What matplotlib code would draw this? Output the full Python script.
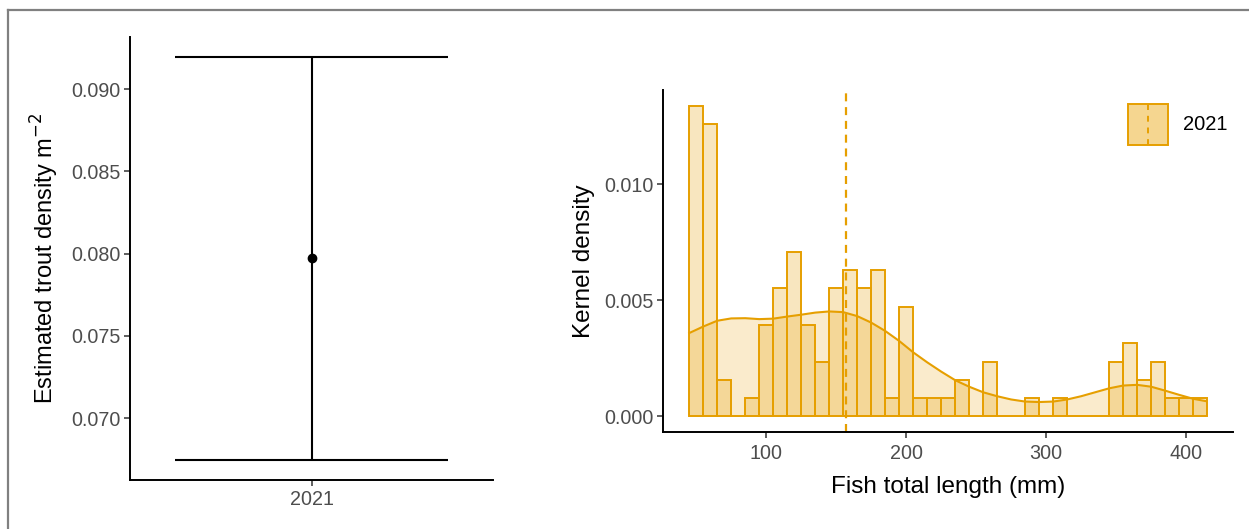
import numpy as np
import matplotlib
matplotlib.use("Agg")
import matplotlib.pyplot as plt
from matplotlib.patches import Rectangle
from matplotlib.lines import Line2D

plt.rcParams['font.family'] = ['Liberation Sans', 'DejaVu Sans']

# left panel: density estimate with interval
years = ['2021']
density_est = [0.07976]
density_lo = [0.06745]
density_hi = [0.09196]

# right panel: fish length histogram (counts per 10 mm bin)
bin_centers = [50, 60, 70, 80, 90, 100, 110, 120, 130, 140, 150, 160, 170, 180,
               190, 200, 210, 220, 230, 240, 250, 260, 270, 280, 290, 300, 310,
               320, 330, 340, 350, 360, 370, 380, 390, 400, 410]
counts = [17, 16, 2, 0, 1, 5, 7, 9, 5, 3, 7, 8, 7, 8,
          1, 6, 1, 1, 1, 2, 0, 3, 0, 0, 1, 0, 1,
          0, 0, 0, 3, 4, 2, 3, 1, 1, 1]
binwidth = 10
mean_length = 157

# kernel density curve
kde_x = [45, 55, 65, 75, 85, 95, 105, 115, 125, 135, 145, 155, 165, 175, 185,
         195, 205, 215, 225, 235, 245, 255, 265, 275, 285, 295, 305, 315, 325,
         335, 345, 355, 365, 375, 385, 395, 405, 414]
kde_y = [0.00359, 0.00387, 0.00412, 0.00422, 0.00423, 0.00419, 0.00421, 0.00430,
         0.00438, 0.00447, 0.00452, 0.00449, 0.00432, 0.00404, 0.00368, 0.00325,
         0.00276, 0.00233, 0.00193, 0.00156, 0.00128, 0.00104, 0.00087, 0.00073,
         0.00064, 0.00062, 0.00064, 0.00073, 0.00087, 0.00104, 0.00121, 0.00133,
         0.00136, 0.00128, 0.00111, 0.00093, 0.00076, 0.00066]

orange = '#E69F00'
tick_grey = '#4D4D4D'


def style_axes(ax):
    for s in ['top', 'right']:
        ax.spines[s].set_visible(False)
    for s in ['left', 'bottom']:
        ax.spines[s].set_linewidth(1.4)
        ax.spines[s].set_color('black')
    ax.tick_params(axis='both', labelsize=14.2, labelcolor=tick_grey,
                   length=4, width=1.1, color='#333333', pad=3)


fig = plt.figure(figsize=(12.49, 5.29), dpi=100)

# frame lines (top and left) like the source screenshot
fig.add_artist(Line2D([8 / 1249, 1], [1 - 10 / 529, 1 - 10 / 529],
                      transform=fig.transFigure, color='#808080', lw=1.6))
fig.add_artist(Line2D([8 / 1249, 8 / 1249], [0, 1 - 10 / 529],
                      transform=fig.transFigure, color='#808080', lw=1.6))

# ---- left panel ----
ax1 = fig.add_axes([0.1041, 0.0921, 0.2906, 0.8385])
style_axes(ax1)
xpos = np.arange(len(years)) + 1
cap_w = 0.9
ax1.vlines(xpos, density_lo, density_hi, color='black', lw=1.5)
ax1.hlines(density_lo, xpos - cap_w / 2, xpos + cap_w / 2, color='black', lw=1.5)
ax1.hlines(density_hi, xpos - cap_w / 2, xpos + cap_w / 2, color='black', lw=1.5)
ax1.plot(xpos, density_est, 'o', color='black', ms=6)
ax1.set_xlim(0.4, 1.6)
span = density_hi[0] - density_lo[0]
ax1.set_ylim(density_lo[0] - 0.05 * span, density_hi[0] + 0.05 * span)
ax1.set_xticks(xpos)
ax1.set_xticklabels(years)
ax1.set_yticks([0.070, 0.075, 0.080, 0.085, 0.090])
ax1.set_yticklabels(['0.070', '0.075', '0.080', '0.085', '0.090'])
ax1.set_ylabel('Estimated trout density m$^{-2}$', fontsize=17, labelpad=7)

# ---- right panel ----
ax2 = fig.add_axes([0.5311, 0.1834, 0.4561, 0.6465])
style_axes(ax2)
ax2.tick_params(axis='x', pad=5)
edges = np.arange(bin_centers[0] - binwidth / 2,
                  bin_centers[-1] + binwidth, binwidth)
ax2.hist(bin_centers, bins=edges, weights=counts, density=True,
         facecolor=(0.902, 0.624, 0.0, 0.25), edgecolor=orange, linewidth=1.4)
ax2.fill_between(kde_x, kde_y, 0, color=orange, alpha=0.2, lw=0)
ax2.plot(kde_x, kde_y, color=orange, lw=1.5)
ax2.axvline(mean_length, color=orange, lw=1.6, ls=(0, (3.6, 2.6)))

xmin, xmax = edges[0], edges[-1]
xr = xmax - xmin
ax2.set_xlim(xmin - 0.05 * xr, xmax + 0.05 * xr)
ymax = max(counts) / (sum(counts) * binwidth)
ax2.set_ylim(-0.05 * ymax, 1.05 * ymax)
ax2.set_xticks([100, 200, 300, 400])
ax2.set_yticks([0.000, 0.005, 0.010])
ax2.set_yticklabels(['0.000', '0.005', '0.010'])
ax2.set_xlabel('Fish total length (mm)', fontsize=17.5, labelpad=9)
ax2.set_ylabel('Kernel density', fontsize=17.5, labelpad=7)

# legend key drawn by hand (filled box with dashed mean line)
key = Rectangle((0.816, 0.840), 0.070, 0.118, transform=ax2.transAxes,
                facecolor='#F5D690', edgecolor=orange, lw=1.4, clip_on=False)
ax2.add_patch(key)
ax2.add_line(Line2D([0.851, 0.851], [0.840, 0.958], transform=ax2.transAxes,
                    color=orange, lw=1.4, ls=(0, (3, 3)), clip_on=False))
ax2.text(0.912, 0.899, '2021', transform=ax2.transAxes, fontsize=14.5,
         va='center', ha='left', color='black')

fig.savefig('out.png', dpi=100)
